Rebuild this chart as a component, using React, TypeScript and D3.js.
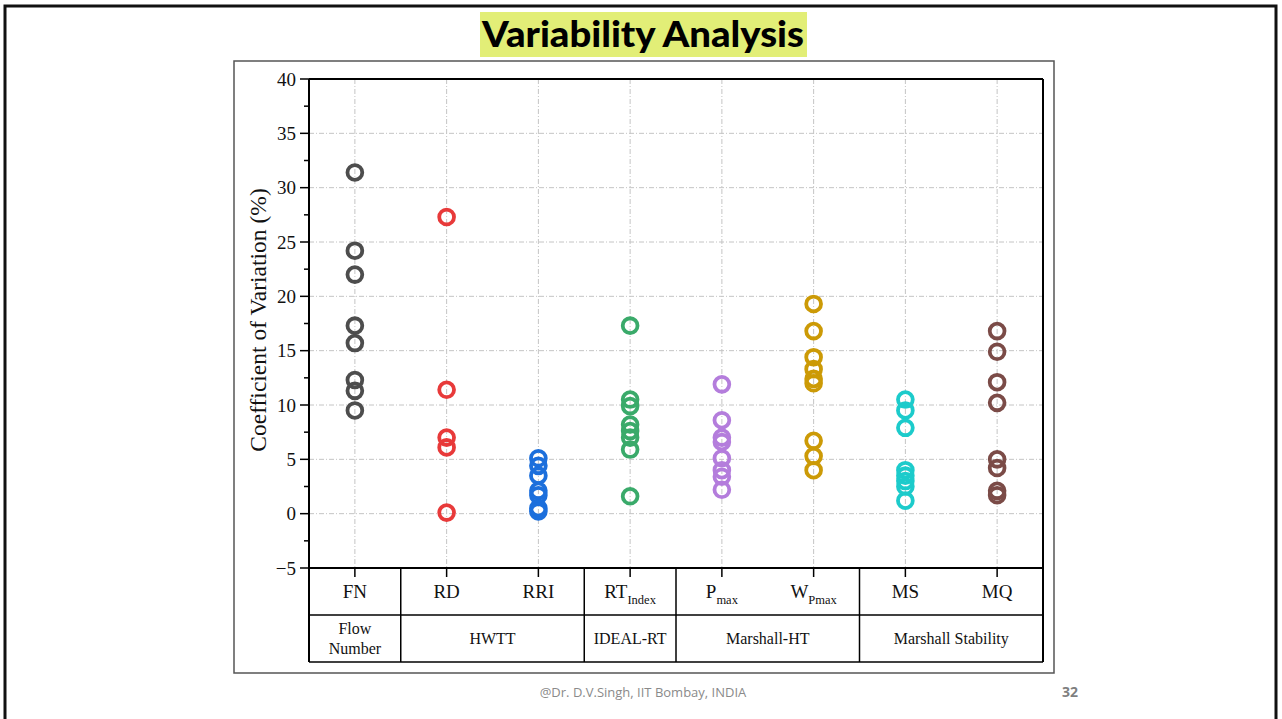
import React, { useEffect, useRef } from 'react';
import * as d3 from 'd3';

// categories along x, in plotting order
const categories = ['FN', 'RD', 'RRI', 'RT', 'Pmax', 'WPmax', 'MS', 'MQ'];

// label parts: main text + subscript
const labelMain = ['FN', 'RD', 'RRI', 'RT', 'P', 'W', 'MS', 'MQ'];
const labelSub = ['', '', '', 'Index', 'max', 'Pmax', '', ''];

// test groups for the second table row
const groupNames = [['Flow', 'Number'], ['HWTT'], ['IDEAL-RT'], ['Marshall-HT'], ['Marshall Stability']];
const groupSpans = [1, 2, 1, 2, 2];

// coefficient of variation (%)
const fnValues = [31.4, 24.2, 22.0, 17.3, 15.7, 12.3, 11.3, 9.5];
const rdValues = [27.3, 11.4, 7.0, 6.1, 0.1];
const rriValues = [5.1, 4.4, 3.5, 2.1, 1.7, 0.5, 0.2];
const rtValues = [17.3, 10.5, 9.9, 8.2, 7.6, 7.0, 5.9, 1.6];
const pmaxValues = [11.9, 8.6, 7.0, 6.6, 5.1, 4.0, 3.4, 2.2];
const wpmaxValues = [19.3, 16.8, 14.4, 13.3, 12.4, 12.0, 6.7, 5.3, 4.0];
const msValues = [10.5, 9.5, 7.9, 4.0, 3.5, 3.0, 2.5, 1.2];
const mqValues = [16.8, 14.9, 12.1, 10.2, 5.0, 4.2, 2.1, 1.7];

const seriesValues = [fnValues, rdValues, rriValues, rtValues, pmaxValues, wpmaxValues, msValues, mqValues];
const seriesColors = ['#4d4d4d', '#e83a3a', '#1c6fdc', '#3aaa6a', '#b47ddc', '#cc9a06', '#1ccbcb', '#7b4b47'];

const yTicks = [-5, 0, 5, 10, 15, 20, 25, 30, 35, 40];

const W = 1282;
const H = 719;

const App: React.FC = () => {
  const svgRef = useRef<SVGSVGElement>(null);

  useEffect(() => {
    const svg = d3.select(svgRef.current);
    svg.selectAll('*').remove();

    const serif = '"Liberation Serif", "Times New Roman", serif';
    const left = 309, right = 1043, top = 79, bottom = 568;
    const row1 = 615, row2 = 662;

    const x = d3.scaleBand<string>().domain(categories).range([left, right]);
    const xc = (c: string) => (x(c) || 0) + x.bandwidth() / 2;
    const y = d3.scaleLinear().domain([-5, 40]).range([bottom, top]);

    // slide border
    svg.append('rect')
      .attr('x', 5).attr('y', 6).attr('width', 1271).attr('height', 800)
      .attr('fill', 'white').attr('stroke', '#111').attr('stroke-width', 3);

    // title
    svg.append('rect')
      .attr('x', 480).attr('y', 12).attr('width', 327).attr('height', 45)
      .attr('fill', '#e2ee77');
    svg.append('text')
      .attr('x', 643).attr('y', 47)
      .attr('text-anchor', 'middle')
      .attr('textLength', 322).attr('lengthAdjust', 'spacingAndGlyphs')
      .style('font-family', 'Lato, "Open Sans", sans-serif')
      .style('font-weight', 900)
      .style('font-size', '36px')
      .style('fill', '#000')
      .text('Variability Analysis');

    // figure frame
    svg.append('rect')
      .attr('x', 234).attr('y', 61).attr('width', 820).attr('height', 612)
      .attr('fill', 'white').attr('stroke', '#555').attr('stroke-width', 1.5);

    const g = svg.append('g');

    // grid
    g.selectAll('.hgrid')
      .data(yTicks.filter(t => t > -5 && t < 40))
      .enter().append('line')
      .attr('x1', left).attr('x2', right)
      .attr('y1', d => y(d)).attr('y2', d => y(d))
      .attr('stroke', '#c4c4c4').attr('stroke-width', 1)
      .attr('stroke-dasharray', '5 2 1 2');
    g.selectAll('.vgrid')
      .data(categories)
      .enter().append('line')
      .attr('x1', d => xc(d)).attr('x2', d => xc(d))
      .attr('y1', top).attr('y2', bottom)
      .attr('stroke', '#c4c4c4').attr('stroke-width', 1)
      .attr('stroke-dasharray', '5 2 1 2');

    // points
    categories.forEach((c, i) => {
      g.selectAll(`.pt-${i}`)
        .data(seriesValues[i])
        .enter().append('circle')
        .attr('cx', xc(c))
        .attr('cy', d => y(d))
        .attr('r', 7.4)
        .attr('fill', 'none')
        .attr('stroke', seriesColors[i])
        .attr('stroke-width', 3.8);
    });

    // plot border
    g.append('line').attr('x1', left).attr('x2', right).attr('y1', top).attr('y2', top)
      .attr('stroke', '#000').attr('stroke-width', 2);
    g.append('line').attr('x1', right).attr('x2', right).attr('y1', top).attr('y2', row2)
      .attr('stroke', '#000').attr('stroke-width', 2);
    g.append('line').attr('x1', left).attr('x2', left).attr('y1', top).attr('y2', row2)
      .attr('stroke', '#000').attr('stroke-width', 2);
    g.append('line').attr('x1', left).attr('x2', right).attr('y1', bottom).attr('y2', bottom)
      .attr('stroke', '#000').attr('stroke-width', 2);

    // y ticks
    const minor = d3.range(-2.5, 40, 5);
    g.selectAll('.ymaj')
      .data(yTicks)
      .enter().append('line')
      .attr('x1', left - 9).attr('x2', left)
      .attr('y1', d => y(d)).attr('y2', d => y(d))
      .attr('stroke', '#000').attr('stroke-width', 1.5);
    g.selectAll('.ymin')
      .data(minor)
      .enter().append('line')
      .attr('x1', left - 5).attr('x2', left)
      .attr('y1', d => y(d)).attr('y2', d => y(d))
      .attr('stroke', '#000').attr('stroke-width', 1.5);
    g.selectAll('.ylab')
      .data(yTicks)
      .enter().append('text')
      .attr('x', left - 13)
      .attr('y', d => y(d))
      .attr('dy', '0.35em')
      .attr('text-anchor', 'end')
      .style('font-family', serif)
      .style('font-size', '19px')
      .style('fill', '#111')
      .text(d => d3.format('d')(d).replace('-', '\u2212'));

    svg.append('text')
      .attr('transform', 'rotate(-90)')
      .attr('x', -320).attr('y', 266)
      .attr('text-anchor', 'middle')
      .style('font-family', serif)
      .style('font-size', '23.5px')
      .style('fill', '#111')
      .text('Coefficient of Variation (%)');

    // x ticks
    g.selectAll('.xtick')
      .data(categories)
      .enter().append('line')
      .attr('x1', d => xc(d)).attr('x2', d => xc(d))
      .attr('y1', bottom).attr('y2', bottom + 9)
      .attr('stroke', '#000').attr('stroke-width', 1.5);

    // table lines
    g.append('line').attr('x1', left).attr('x2', right).attr('y1', row1).attr('y2', row1)
      .attr('stroke', '#000').attr('stroke-width', 1.5);
    g.append('line').attr('x1', left).attr('x2', right).attr('y1', row2).attr('y2', row2)
      .attr('stroke', '#000').attr('stroke-width', 1.5);

    let start = 0;
    const groupBounds: [number, number][] = [];
    groupSpans.forEach(s => {
      const x0 = x(categories[start]) || 0;
      const x1 = (x(categories[start + s - 1]) || 0) + x.bandwidth();
      groupBounds.push([x0, x1]);
      start += s;
    });
    groupBounds.slice(1).forEach(([x0]) => {
      g.append('line').attr('x1', x0).attr('x2', x0).attr('y1', bottom).attr('y2', row2)
        .attr('stroke', '#000').attr('stroke-width', 1.5);
    });

    // category labels
    categories.forEach((c, i) => {
      const t = g.append('text')
        .attr('x', xc(c)).attr('y', 598)
        .attr('text-anchor', 'middle')
        .style('font-family', serif)
        .style('font-size', '19px')
        .style('fill', '#111');
      t.append('tspan').text(labelMain[i]);
      if (labelSub[i]) {
        t.append('tspan')
          .attr('dy', 6)
          .style('font-size', '12.5px')
          .text(labelSub[i]);
      }
    });

    // group labels
    groupNames.forEach((lines, i) => {
      const [x0, x1] = groupBounds[i];
      const cx = (x0 + x1) / 2;
      const lineH = 20;
      const y0 = (row1 + row2) / 2 - ((lines.length - 1) * lineH) / 2 + 5;
      lines.forEach((ln, j) => {
        g.append('text')
          .attr('x', cx).attr('y', y0 + j * lineH)
          .attr('text-anchor', 'middle')
          .style('font-family', serif)
          .style('font-size', '16px')
          .style('fill', '#111')
          .text(ln);
      });
    });

    // footer
    svg.append('text')
      .attr('x', 643).attr('y', 697)
      .attr('text-anchor', 'middle')
      .style('font-family', '"Open Sans", sans-serif')
      .style('font-size', '13px')
      .style('fill', '#8a8a8a')
      .text('@Dr. D.V.Singh, IIT Bombay, INDIA');
    svg.append('text')
      .attr('x', 1070).attr('y', 697)
      .attr('text-anchor', 'middle')
      .style('font-family', '"Open Sans", sans-serif')
      .style('font-size', '14px')
      .style('font-weight', 'bold')
      .style('fill', '#7f7f7f')
      .text('32');
  }, []);

  return (
    <svg
      ref={svgRef}
      width={W}
      height={H}
      style={{ position: 'absolute', left: 0, top: 0, background: 'white' }}
    />
  );
};

export default App;
